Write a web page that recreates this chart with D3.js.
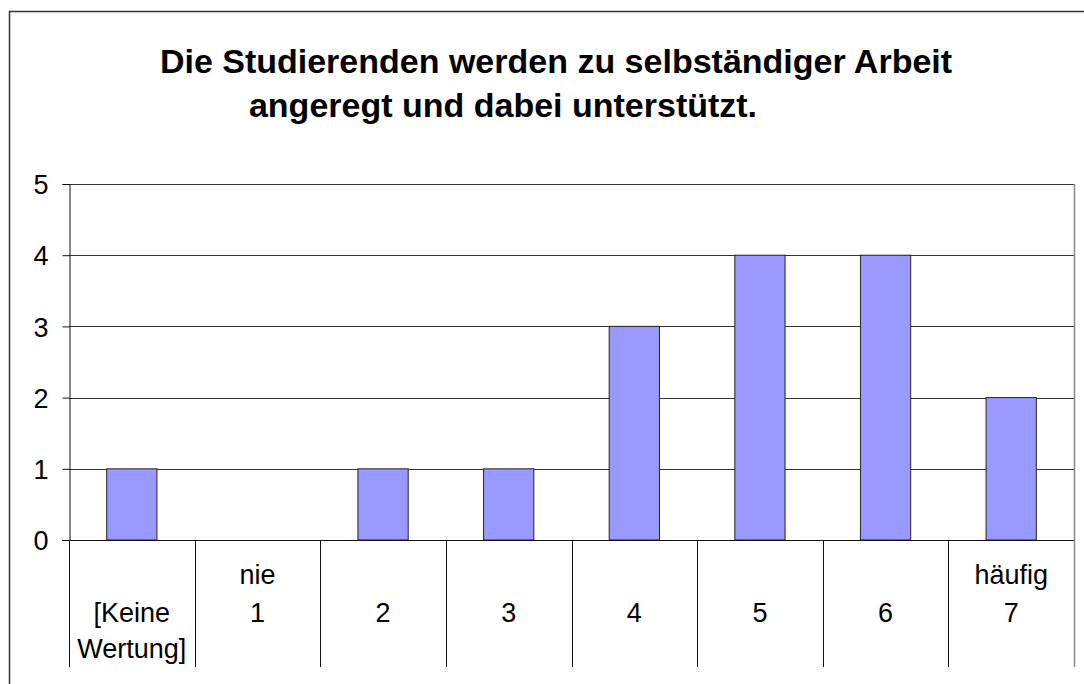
<!DOCTYPE html>
<html>
<head>
<meta charset="utf-8">
<script src="https://cdn.jsdelivr.net/npm/d3@7"></script>
<style>
  body { margin: 0; background: #fff; }
  svg { display: block; font-family: "Liberation Sans", Arial, sans-serif; }
</style>
</head>
<body>
<svg id="chart" width="1084" height="684"></svg>
<script>
// chart data
const categories = ['[Keine Wertung]', '1', '2', '3', '4', '5', '6', '7'];
const topLabels = ['', 'nie', '', '', '', '', '', 'häufig'];
const values = [1, 0, 1, 1, 3, 4, 4, 2];
const yTicks = [0, 1, 2, 3, 4, 5];
const titleLines = ['Die Studierenden werden zu selbständiger Arbeit', 'angeregt und dabei unterstützt.'];

const svg = d3.select('#chart');

// outer frame
svg.append('rect')
    .attr('x', 9.5).attr('y', 11.5)
    .attr('width', 1090).attr('height', 690)
    .attr('fill', 'none')
    .attr('stroke', '#333')
    .attr('stroke-width', 1.5);

// title
const titleX = [556, 503];
const titleY = [73, 117];
svg.selectAll('text.title').data(titleLines).enter().append('text')
    .attr('class', 'title')
    .attr('x', (d, i) => titleX[i])
    .attr('y', (d, i) => titleY[i])
    .attr('text-anchor', 'middle')
    .attr('font-size', 34)
    .attr('font-weight', 'bold')
    .text(d => d);

const plotL = 69, plotR = 1074, plotT = 184, plotB = 540;

const x = d3.scaleBand().domain(categories).range([plotL, plotR]).padding(0);
const y = d3.scaleLinear().domain([0, 5]).range([plotB, plotT]);

// gridlines
svg.append('g').selectAll('line').data(yTicks.filter(t => t > 0)).enter().append('line')
    .attr('x1', plotL).attr('x2', plotR)
    .attr('y1', d => Math.round(y(d)) + 0.5).attr('y2', d => Math.round(y(d)) + 0.5)
    .attr('stroke', '#333').attr('stroke-width', 1);

// plot right edge
svg.append('line')
    .attr('x1', plotR + 0.5).attr('x2', plotR + 0.5)
    .attr('y1', plotT).attr('y2', plotB)
    .attr('stroke', '#888').attr('stroke-width', 1.5);

// bars
const bw = x.bandwidth() * 0.4;
svg.append('g').selectAll('rect').data(values).enter().append('rect')
    .attr('x', (d, i) => x(categories[i]) + (x.bandwidth() - bw) / 2)
    .attr('y', d => y(d))
    .attr('width', bw)
    .attr('height', d => plotB - y(d))
    .attr('fill', '#9999ff')
    .attr('stroke', '#222')
    .attr('stroke-width', 1);

// y axis
const yAxis = svg.append('g')
    .attr('transform', `translate(${plotL + 0.5},0)`)
    .call(d3.axisLeft(y).tickValues(yTicks).tickSize(7).tickPadding(14).tickFormat(d3.format('d')));
yAxis.select('.domain').attr('stroke', '#111');
yAxis.selectAll('.tick line').attr('stroke', '#111');
yAxis.selectAll('.tick text')
    .attr('font-size', 27)
    .attr('font-family', '"Liberation Sans", Arial, sans-serif')
    .attr('fill', '#000')
    .attr('dy', '0.36em');

// x axis line at 0
svg.append('line')
    .attr('x1', plotL - 7).attr('x2', plotR)
    .attr('y1', plotB + 0.5).attr('y2', plotB + 0.5)
    .attr('stroke', '#111');

// category separators
const seps = categories.map(c => x(c)).concat([plotR]);
svg.append('g').selectAll('line').data(seps).enter().append('line')
    .attr('x1', d => Math.round(d) + 0.5).attr('x2', d => Math.round(d) + 0.5)
    .attr('y1', plotB).attr('y2', 667)
    .attr('stroke', (d, i) => i === seps.length - 1 ? '#888' : '#111')
    .attr('stroke-width', (d, i) => i === seps.length - 1 ? 1.5 : 1);

// category labels
const labels = svg.append('g').attr('font-size', 27).attr('text-anchor', 'middle');
categories.forEach((c, i) => {
    const cx = x(c) + x.bandwidth() / 2;
    if (topLabels[i]) {
        labels.append('text').attr('x', cx).attr('y', 584).text(topLabels[i]);
    }
    const parts = c.startsWith('[') ? c.split(' ') : [c];
    parts.forEach((p, j) => {
        labels.append('text').attr('x', cx).attr('y', 622 + j * 36).text(p);
    });
});
</script>
</body>
</html>
